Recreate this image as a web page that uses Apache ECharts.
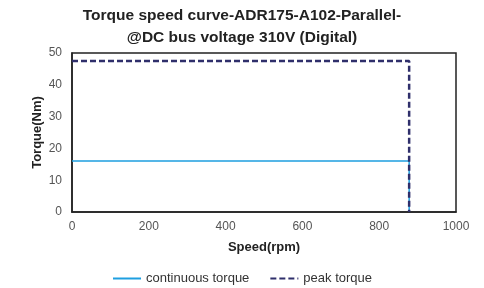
<!DOCTYPE html>
<html><head><meta charset="utf-8">
<script src="https://cdn.jsdelivr.net/npm/echarts@6/dist/echarts.min.js"></script>
<style>html,body{margin:0;padding:0;background:#fff}#c{width:484px;height:288px}</style>
</head><body><div id="c"></div>
<script>
const continuousSpeed = [0, 878, 878];
const continuousTorque = [16, 16, 0];
const peakSpeed = [0, 878, 878];
const peakTorque = [47.5, 47.5, 0];
const seriesNames = ['continuous torque', 'peak torque'];

const chart = echarts.init(document.getElementById('c'));
const font = 'Liberation Sans, Arial, sans-serif';
chart.setOption({
  animation: false,
  title: {
    text: 'Torque speed curve-ADR175-A102-Parallel-\n@DC bus voltage 310V (Digital)',
    left: 'center', top: 0,
    textStyle: { fontFamily: font, fontSize: 15.5, fontWeight: 'bold', color: '#222', lineHeight: 22 }
  },
  grid: { left: 72, right: 28, top: 53, bottom: 76, show: true, borderColor: '#222', borderWidth: 1.5, backgroundColor: 'transparent' },
  legend: {
    top: 267, left: 'center', itemWidth: 28, itemHeight: 10, itemGap: 20,
    itemStyle: { opacity: 0 },
    textStyle: { fontFamily: font, fontSize: 13, color: '#333' },
    data: seriesNames
  },
  xAxis: {
    type: 'value', min: 0, max: 1000, interval: 200,
    name: 'Speed(rpm)', nameLocation: 'middle', nameGap: 29,
    nameTextStyle: { fontFamily: font, fontSize: 13, fontWeight: 'bold', color: '#222' },
    axisLine: { show: true, lineStyle: { color: '#222', width: 1.5 } },
    axisTick: { show: false },
    axisLabel: { fontFamily: font, fontSize: 12, color: '#555', margin: 9, formatter: v => String(v) },
    splitLine: { show: false }
  },
  yAxis: {
    type: 'value', min: 0, max: 50, interval: 10,
    name: 'Torque(Nm)', nameLocation: 'middle', nameGap: 28, nameMoveOverlap: false,
    nameTextStyle: { fontFamily: font, fontSize: 13, fontWeight: 'bold', color: '#222' },
    axisLine: { show: true, lineStyle: { color: '#222', width: 1.5 } },
    axisTick: { show: false },
    axisLabel: { fontFamily: font, fontSize: 12, color: '#555', margin: 10 },
    splitLine: { show: false }
  },
  series: [
    {
      name: seriesNames[0], type: 'line', showSymbol: false, symbol: 'none',
      data: continuousSpeed.map((s, i) => [s, continuousTorque[i]]),
      lineStyle: { color: '#1e9fe0', width: 1.5 }, itemStyle: { color: '#1e9fe0' }
    },
    {
      name: seriesNames[1], type: 'line', showSymbol: false, symbol: 'none',
      data: peakSpeed.map((s, i) => [s, peakTorque[i]]),
      lineStyle: { color: '#2f2f6b', width: 2.5, type: [6, 3] }, itemStyle: { color: '#2f2f6b' }
    }
  ]
});
</script></body></html>
